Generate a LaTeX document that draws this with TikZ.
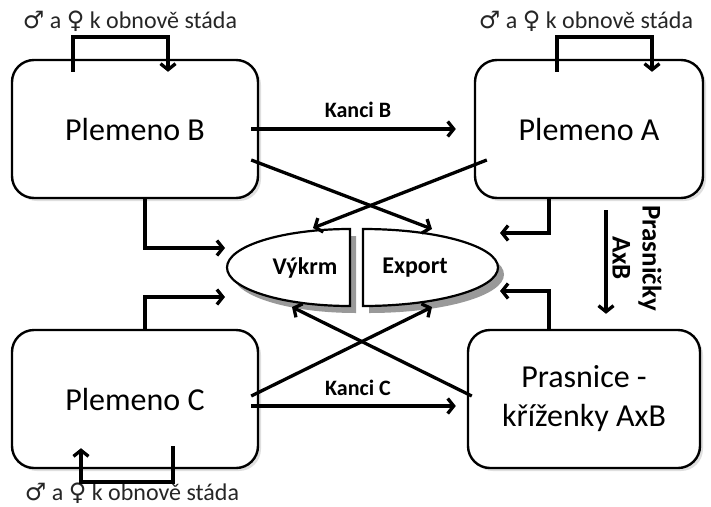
\documentclass[tikz,border=0pt]{standalone}
\usepackage{fontspec}
\setmainfont{Carlito}
\newfontfamily\symfont{DejaVu Sans}
\usetikzlibrary{arrows.meta,shadows}

\begin{document}
\begin{tikzpicture}[x=1pt, y=-1pt,
    plemeno/.style={draw, line width=2.4pt, rounded corners=22pt, fill=white,
        drop shadow={shadow xshift=3pt, shadow yshift=-3pt, opacity=0.25},
        align=center, font=\fontsize{32}{40}\selectfont},
    arr/.style={line width=3.3pt, -{Straight Barb[length=6pt, width=15pt]}},
    popis/.style={font=\fontsize{22}{28}\selectfont\bfseries},
    obnova/.style={font=\fontsize{24}{28}\selectfont, text=black!85}]
    \useasboundingbox (0,0) rectangle (711,506);

    % plemena
    \node[plemeno, minimum width=246pt, minimum height=138pt] (B) at (135,129) {Plemeno B};
    \node[plemeno, minimum width=228pt, minimum height=138pt] (A) at (589,129) {Plemeno A};
    \node[plemeno, minimum width=246pt, minimum height=138pt] (C) at (135,399) {Plemeno C};
    \node[plemeno, minimum width=232pt, minimum height=138pt] (P) at (584,399) {Prasnice -\\[-1pt]kříženky AxB};

    % vykrm a export
    \draw[line width=2.2pt, fill=white, drop shadow={shadow xshift=6pt, shadow yshift=-7pt, fill=gray!80, opacity=1}]
        (350,306) arc[start angle=90, end angle=270, x radius=123, y radius=38.5] -- cycle;
    \draw[line width=2.2pt, fill=white, drop shadow={shadow xshift=6pt, shadow yshift=-7pt, fill=gray!80, opacity=1}]
        (363,306) arc[start angle=90, end angle=-90, x radius=135, y radius=38.5] -- cycle;
    \node[popis, font=\fontsize{24}{28}\selectfont\bfseries] (vykrm) at (305,268) {Výkrm};
    \node[popis, font=\fontsize{24}{28}\selectfont\bfseries] (export) at (415,268) {Export};

    \coordinate (vkT) at (313,228);
    \coordinate (exT) at (432,229);
    \coordinate (vkB) at (292,307);
    \coordinate (exB) at (432,307);
    \coordinate (vkL1) at (225,248);
    \coordinate (vkL2) at (225,297);
    \coordinate (exR1) at (500,233);
    \coordinate (exR2) at (500,291);

    % obnova stada
    \coordinate (bl) at (168,37);
    \coordinate (al) at (652,37);
    \coordinate (cl) at (81,482);
    \node[obnova] (oB) at (130,21) {{\symfont ♂} a {\symfont ♀} k obnově stáda};
    \node[obnova] (oA) at (586,21) {{\symfont ♂} a {\symfont ♀} k obnově stáda};
    \node[obnova] (oC) at (132,493) {{\symfont ♂} a {\symfont ♀} k obnově stáda};
    \draw[arr] ([xshift=-62pt, yshift=-13pt]B.north) |- (bl) -- ([xshift=33pt, yshift=-13pt]B.north);
    \draw[arr] ([xshift=-32pt, yshift=-13pt]A.north) |- (al) -- ([xshift=63pt, yshift=-13pt]A.north);
    \draw[arr] ([xshift=38pt, yshift=23pt]C.south) |- (cl) -- ([xshift=-54pt, yshift=21pt]C.south);

    % kanci
    \draw[arr] ([xshift=-8pt]B.east) -- ([xshift=-18pt]A.west);
    \node[popis] (kB) at (358,110) {Kanci B};
    \draw[arr] ([xshift=-8pt, yshift=-7pt]C.east) -- ([xshift=-11pt, yshift=-7pt]P.west);
    \node[popis] (kC) at (358,388) {Kanci C};

    % prasnicky
    \draw[arr] ([xshift=17pt, yshift=-11pt]A.south) -- ([xshift=22pt, yshift=15pt]P.north);
    \node[popis, font=\fontsize{27}{30}\selectfont\bfseries, rotate=-90, align=center] (pr) at (637,258) {Prasničky\\AxB};

    % do vykrmu a exportu
    \draw[arr] ([xshift=10pt]B.south) |- (vkL1);
    \draw[arr] ([xshift=10pt]C.north) |- (vkL2);
    \draw[arr] ([xshift=-40pt]A.south) |- (exR1);
    \draw[arr] ([xshift=-35pt]P.north) |- (exR2);
    \draw[arr] ([xshift=-8pt, yshift=-31pt]B.east) -- (exT);
    \draw[arr] ([xshift=13pt, yshift=-31pt]A.west) -- (vkT);
    \draw[arr] ([xshift=-8pt, yshift=3pt]C.east) -- (exB);
    \draw[arr] ([xshift=5pt, yshift=3pt]P.west) -- (vkB);
\end{tikzpicture}
\end{document}
